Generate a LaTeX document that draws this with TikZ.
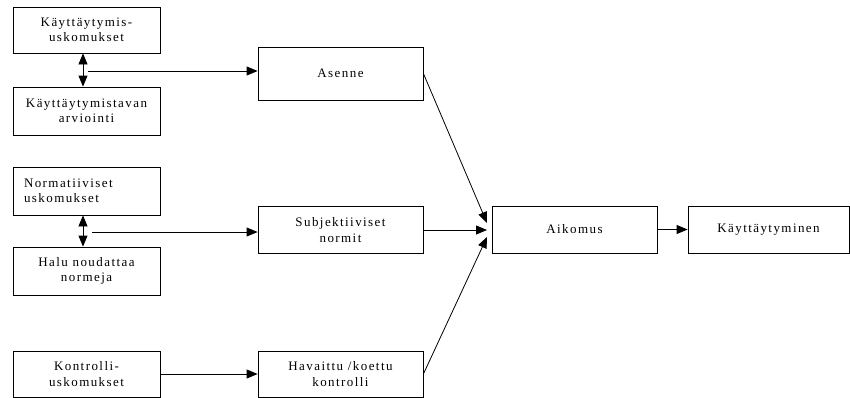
\documentclass[tikz,border=0pt]{standalone}
\usepackage{fontspec}
\setmainfont{Liberation Serif}[LetterSpace=11]
\usepackage{tikz}
\usetikzlibrary{arrows.meta,positioning}

\tikzset{
	box/.style={draw=black, thick, rectangle, inner sep=0pt, font=\fontsize{13}{15.5}\selectfont},
	arr/.style={-{Triangle[length=11pt,width=9pt]}, thick}
}

\begin{document}
\begin{tikzpicture}[x=1pt,y=-1pt]
			\useasboundingbox (0,0) rectangle (850,397);

			\node[box, minimum width=147pt, minimum height=46pt, align=center] (kus) at (86.5,30) {Käyttäytymis-\\uskomukset};
			\node[box, minimum width=147pt, minimum height=48pt, align=center] (arv) at (86.5,111) {Käyttäytymistavan\\arviointi};
			\node[box, minimum width=147pt, minimum height=48pt, align=left, text width=125pt] (nus) at (86.5,191) {Normatiiviset\\uskomukset};
			\node[box, minimum width=147pt, minimum height=48pt, align=center] (halu) at (86.5,271) {Halu noudattaa\\normeja};
			\node[box, minimum width=147pt, minimum height=46pt, align=center] (kon) at (86.5,374) {Kontrolli-\\uskomukset};

			\node[box, minimum width=165pt, minimum height=53pt] (asenne) at (340.5,73.5) {Asenne};
			\node[box, minimum width=165pt, minimum height=47pt, align=center] (subj) at (340.5,230) {Subjektiiviset\\normit};
			\node[box, minimum width=165pt, minimum height=46pt, align=center] (hav) at (340.5,374) {Havaittu /koettu\\kontrolli};
			\node[box, minimum width=165pt, minimum height=47pt] (aik) at (574.5,229.5) {Aikomus};
			\node[box, minimum width=161pt, minimum height=47pt] (kay) at (768.5,229.5) {Käyttäytyminen};

			\coordinate (j1) at (83,71);
			\coordinate (j2) at (83,232);
			\coordinate (a1) at (487,223);
			\coordinate (a2) at (487,230);
			\coordinate (a3) at (487,237);

			\draw[arr] (j1) -- (kus.south -| j1);
			\draw[arr] (j1) -- (arv.north -| j1);
			\draw[arr] ([xshift=5pt]j1) -- (asenne.west |- j1);
			\draw[arr] (j2) -- (nus.south -| j2);
			\draw[arr] (j2) -- (halu.north -| j2);
			\draw[arr] ([xshift=9pt]j2) -- (subj.west |- j2);
			\draw[arr] (kon.east) -- (hav.west);

			\draw[arr] (asenne.east) -- (a1);
			\draw[arr] (subj.east) -- (a2);
			\draw[arr] (hav.east) -- (a3);
			\draw[arr] (aik.east) -- (kay.west);
		\end{tikzpicture}
\end{document}
